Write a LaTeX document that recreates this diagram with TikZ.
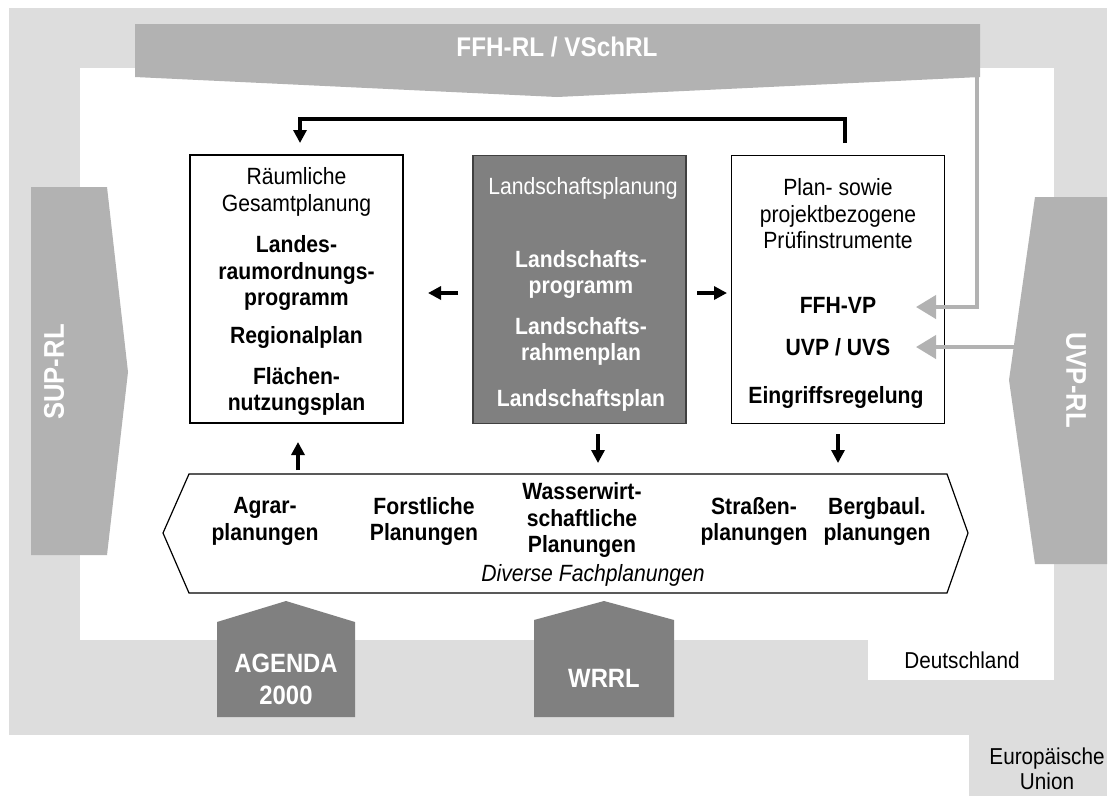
\documentclass[tikz,border=0pt]{standalone}
\usepackage{fontspec}
\setmainfont{Liberation Sans}[FakeStretch=0.9]
\usetikzlibrary{arrows.meta,calc}
\definecolor{eugray}{RGB}{221,221,221}
\definecolor{rlgray}{RGB}{178,178,178}
\definecolor{dkgray}{RGB}{128,128,128}
\tikzset{
  box/.style={draw=black, line width=1.2, minimum width=213, minimum height=268, inner sep=0},
  txt/.style={align=center, inner sep=0, font=\fontsize{23.5}{26.5}\selectfont},
  btxt/.style={align=center, inner sep=0, font=\fontsize{23.5}{26.5}\selectfont\bfseries},
  wtxt/.style={btxt, text=white},
  bigw/.style={align=center, inner sep=0, text=white, font=\fontsize{26.5}{32}\selectfont\bfseries},
  barr/.style={line width=3.2, -{Triangle[length=13,width=13]}},
  garr/.style={draw=rlgray, line width=4, -{Triangle[length=20,width=23]}, rlgray},
  rlshape/.style={fill=rlgray, draw=none},
  house/.style={fill=dkgray, draw=none}
}
\begin{document}
\begin{tikzpicture}[x=1pt,y=-1pt]
\useasboundingbox (0,0) rectangle (1113,796);
% background regions
\fill[eugray] (9,8) rectangle (1107,735);
\fill[eugray] (969,735) rectangle (1107,796);
\fill[white] (80,68) rectangle (1054,640);
\fill[white] (868,640) rectangle (1054,680);
\node[txt, font=\fontsize{23}{25}\selectfont] (de) at (962,660) {Deutschland};
\node[txt, font=\fontsize{23}{25}\selectfont] (eu) at (1047,769) {Europäische\\Union};

% FFH banner
\fill[rlshape] (135,24) -- (980,24) -- (980,77) -- (557,97) -- (135,77) -- cycle;
\node[bigw, font=\fontsize{27}{32}\selectfont\bfseries] (ffh) at (557,47) {FFH-RL / VSchRL};

% SUP-RL
\fill[rlshape] (31,187) -- (107,187) -- (128,372) -- (107,555) -- (31,555) -- cycle;
\node[bigw, font=\fontsize{28.5}{32}\selectfont\bfseries, rotate=90] (sup) at (54,372) {SUP-RL};

% UVP-RL
\fill[rlshape] (1107,197) -- (1035,197) -- (1009,380) -- (1035,564) -- (1107,564) -- cycle;
\node[bigw, font=\fontsize{28.5}{32}\selectfont\bfseries, rotate=-90] (uvp) at (1076,380) {UVP-RL};

% houses
\fill[house] (217,717) -- (217,622) -- (286,601) -- (355,622) -- (355,717) -- cycle;
\node[bigw] (agenda) at (286,679) {AGENDA\\2000};
\fill[house] (534,717) -- (534,620) -- (604,601) -- (674,620) -- (674,717) -- cycle;
\node[bigw] (wrrl) at (604,678) {WRRL};

% boxes
\node[box, fill=white] (L) at (296.5,289) {};
\node[box, fill=dkgray, draw=black!75] (M) at (579.5,289.5) {};
\node[box, fill=white] (R) at (838,289.5) {};

% left box text
\node[txt] (L1) at (296.5,192) {Räumliche\\Gesamtplanung};
\node[btxt] (L2) at (296.5,273) {Landes-\\raumordnungs-\\programm};
\node[btxt] (L3) at (296.5,337) {Regionalplan};
\node[btxt] (L4) at (296.5,391.5) {Flächen-\\nutzungsplan};

% middle box text
\node[txt, text=white] (M1) at (583,188) {Landschaftsplanung};
\node[wtxt] (M2) at (581,274.5) {Landschafts-\\programm};
\node[wtxt] (M3) at (581,341.5) {Landschafts-\\rahmenplan};
\node[wtxt] (M4) at (581,400) {Landschaftsplan};

% right box text
\node[txt] (R1) at (838,214) {Plan- sowie\\projektbezogene\\Prüfinstrumente};
\node[btxt] (R2) at (838,305) {FFH-VP};
\node[btxt] (R3) at (838,347) {UVP / UVS};
\node[btxt] (R4) at (836,397) {Eingriffsregelung};

% hexagon
\draw[line width=1.2, fill=white] (189,474) -- (947,474) -- (968,533) -- (947,593) -- (189,593) -- (163,533) -- cycle;
\node[btxt] (H1) at (265,521.5) {Agrar-\\planungen};
\node[btxt] (H2) at (424,521.5) {Forstliche\\Planungen};
\node[btxt] (H3) at (582,520) {Wasserwirt-\\schaftliche\\Planungen};
\node[btxt] (H4) at (754,521.5) {Straßen-\\planungen};
\node[btxt] (H5) at (877,521.5) {Bergbaul.\\planungen};
\node[txt, font=\fontsize{23.5}{26}\selectfont\itshape] (H6) at (593,575) {Diverse Fachplanungen};

% coordinates for connectors
\coordinate (loopS) at (845,143);
\coordinate (loopA) at (845,119);
\coordinate (loopB) at (300,119);
\coordinate (loopE) at (300,143);
\coordinate (mlS) at (458,293);
\coordinate (mlE) at (428,293);
\coordinate (mrS) at (697,293);
\coordinate (mrE) at (727,293);
\coordinate (upS) at (298,470);
\coordinate (upE) at (298,442);
\coordinate (d1S) at (598,434);
\coordinate (d1E) at (598,463);
\coordinate (d2S) at (838,434);
\coordinate (d2E) at (838,463);
\coordinate (ffhS) at (977,77);
\coordinate (ffhB) at (977,307);
\coordinate (ffhE) at (916,307);
\coordinate (uvpS) at (1014,347);
\coordinate (uvpE) at (916,347);

% black arrows
\draw[barr] (loopS) -- (loopA) -- (loopB) -- (loopE);
\draw[barr] (mlS) -- (mlE);
\draw[barr] (mrS) -- (mrE);
\draw[barr] (upS) -- (upE);
\draw[barr] (d1S) -- (d1E);
\draw[barr] (d2S) -- (d2E);

% gray arrows
\draw[garr] (ffhS) -- (ffhB) -- (ffhE);
\draw[garr] (uvpS) -- (uvpE);
\end{tikzpicture}
\end{document}
